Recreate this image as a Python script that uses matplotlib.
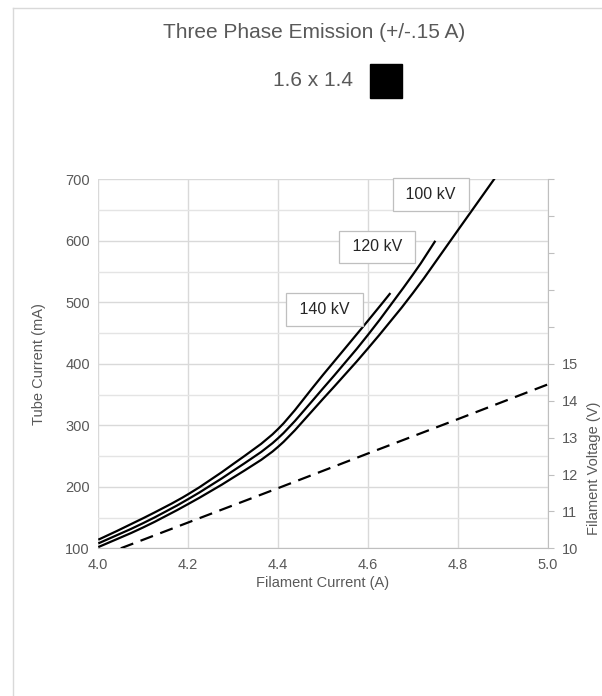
import matplotlib.pyplot as plt
import matplotlib.ticker as ticker
from matplotlib.patches import Rectangle, PathPatch
from matplotlib.lines import Line2D
from matplotlib.path import Path

plt.rcParams['font.family'] = ['Liberation Sans', 'DejaVu Sans']

# dados
x_140 = [4.0, 4.1, 4.2, 4.3, 4.4, 4.5, 4.6, 4.65]
y_140 = [114, 149, 188, 237, 294, 382, 470, 515]

x_120 = [4.0, 4.1, 4.2, 4.3, 4.4, 4.5, 4.6, 4.7, 4.75]
y_120 = [108, 141, 180, 226, 279, 360, 447, 545, 600]

x_100 = [4.0, 4.1, 4.2, 4.3, 4.4, 4.5, 4.6, 4.7, 4.8, 4.9]
y_100 = [102, 134, 172, 215, 265, 343, 425, 515, 617, 720]

x_volt = [4.05, 4.2, 4.4, 4.6, 4.8, 5.0]
y_volt = [10.0, 10.7, 11.63, 12.57, 13.5, 14.44]

kv_labels = ['140 kV', '120 kV', '100 kV']
kv_label_pos = [(4.503, 488), (4.620, 590), (4.740, 675)]

x_ticks = [4.0, 4.2, 4.4, 4.6, 4.8, 5.0]
y_ticks = [100, 200, 300, 400, 500, 600, 700]
v_ticks = list(range(10, 21))
v_tick_labels = ['10', '11', '12', '13', '14', '15', '', '', '', '', '']

cinza = '#595959'
grade = '#d9d9d9'


def linha_suave(ax, xs, ys, **kw):
    # linha suavizada como no Excel (bezier passando pelos pontos)
    pts = list(zip(xs, ys))
    verts = [pts[0]]
    codes = [Path.MOVETO]
    for i in range(len(pts) - 1):
        p0 = pts[i - 1] if i > 0 else pts[i]
        p1 = pts[i]
        p2 = pts[i + 1]
        p3 = pts[i + 2] if i + 2 < len(pts) else pts[i + 1]
        c1 = (p1[0] + (p2[0] - p0[0]) / 6, p1[1] + (p2[1] - p0[1]) / 6)
        c2 = (p2[0] - (p3[0] - p1[0]) / 6, p2[1] - (p3[1] - p1[1]) / 6)
        verts += [c1, c2, p2]
        codes += [Path.CURVE4] * 3
    patch = PathPatch(Path(verts, codes), fill=False, transform=ax.transData, **kw)
    ax.add_patch(patch)
    return patch


fig = plt.figure(figsize=(6.02, 6.96), dpi=100)
ax = fig.add_axes([0.1633, 0.2122, 0.7465, 0.5302])

# moldura do grafico (cortada na direita e embaixo)
fig.add_artist(Line2D([13 / 602, 13 / 602], [0, 1 - 8 / 696], transform=fig.transFigure, color=grade, lw=1))
fig.add_artist(Line2D([13 / 602, 1], [1 - 8 / 696, 1 - 8 / 696], transform=fig.transFigure, color=grade, lw=1))

linha_suave(ax, x_140, y_140, ec='black', lw=1.6, zorder=3)
linha_suave(ax, x_120, y_120, ec='black', lw=1.6, zorder=3)
linha_suave(ax, x_100, y_100, ec='black', lw=1.6, zorder=3)

ax.set_xlim(4.0, 5.0)
ax.set_ylim(100, 700)
ax.set_xticks(x_ticks)
ax.set_yticks(y_ticks)
ax.xaxis.set_major_formatter(ticker.FormatStrFormatter('%.1f'))
ax.yaxis.set_minor_locator(ticker.MultipleLocator(50))
ax.grid(True, which='major', color=grade, lw=1)
ax.grid(True, which='minor', axis='y', color='#e4e4e4', lw=1)
ax.set_axisbelow(True)
ax.tick_params(axis='both', which='both', length=0, labelsize=10.5, colors=cinza, pad=6)
ax.tick_params(axis='x', pad=7)
for s in ['top', 'left', 'right']:
    ax.spines[s].set_visible(False)
ax.spines['bottom'].set_color('#bfbfbf')

ax.set_xlabel('Filament Current (A)', fontsize=10.5, color=cinza, labelpad=3)
ax.set_ylabel('Tube Current (mA)', fontsize=10.5, color=cinza, labelpad=14)

# eixo secundario - tensao do filamento
ax2 = ax.twinx()
ax2.plot(x_volt, y_volt, color='black', lw=1.6, dashes=(6, 3.5), zorder=3)
ax2.set_ylim(10, 20)
ax2.set_yticks(v_ticks)
ax2.set_yticklabels(v_tick_labels)
ax2.tick_params(axis='y', length=4, color='#bfbfbf', labelsize=10.5, labelcolor=cinza, pad=6)
for s in ['top', 'left', 'bottom']:
    ax2.spines[s].set_visible(False)
ax2.spines['right'].set_color('#bfbfbf')

fig.text(594 / 602, 1 - 468 / 696, 'Filament Voltage (V)', rotation=90, fontsize=10.5,
         color=cinza, ha='center', va='center')

# rotulos das curvas
for txt, (lx, ly) in zip(kv_labels, kv_label_pos):
    ax.text(lx, ly, ' ' + txt + ' ', fontsize=11.5, color='#262626', ha='center', va='center', zorder=5,
            bbox=dict(boxstyle='square,pad=0.55', fc='white', ec='#bfbfbf', lw=0.9))

# titulo e legenda
fig.text(0.522, 1 - 33 / 696, 'Three Phase Emission (+/-.15 A)', fontsize=15, color=cinza,
         ha='center', va='center')
fig.text(353 / 602, 1 - 81 / 696, '1.6 x 1.4', fontsize=15, color=cinza, ha='right', va='center')
fig.add_artist(Rectangle((369.5 / 602, 1 - 97.7 / 696), 32.4 / 602, 33.4 / 696,
                         transform=fig.transFigure, color='black'))

fig.savefig('out.png', dpi=100)
